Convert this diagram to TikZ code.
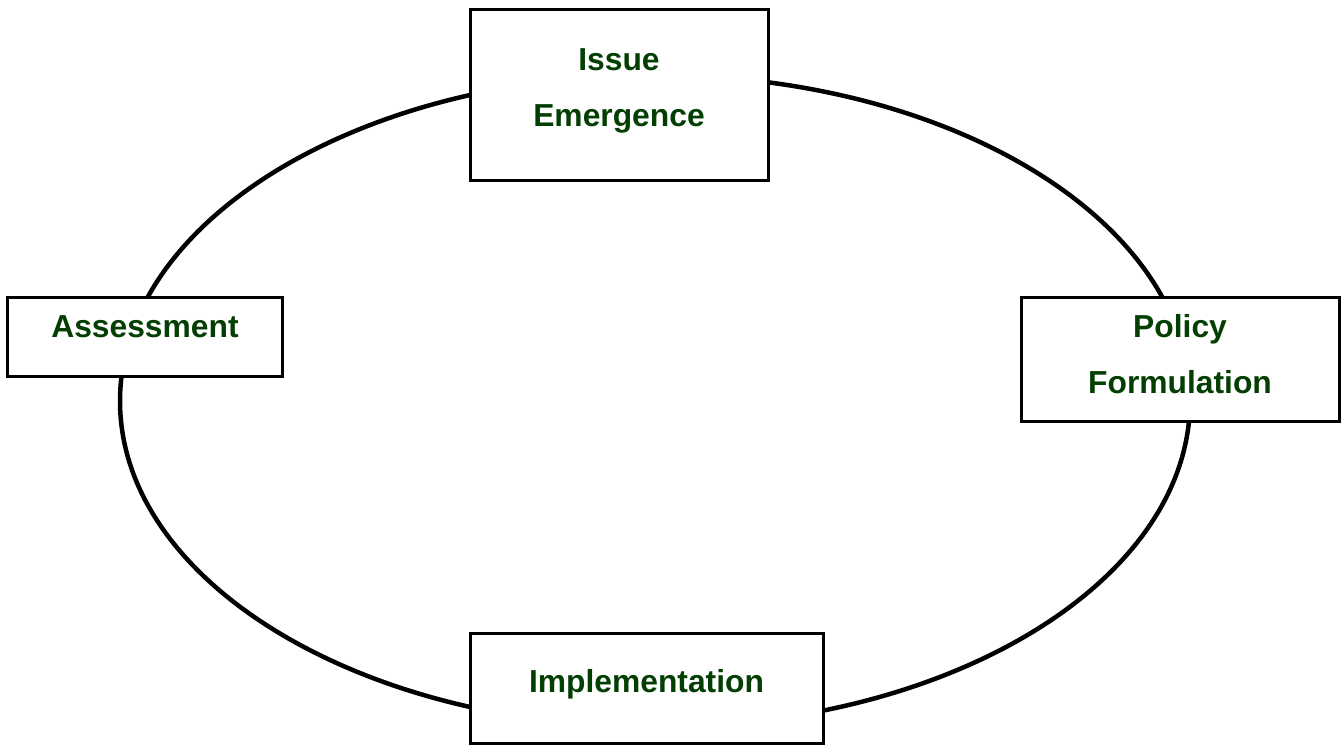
\documentclass[tikz,border=0pt]{standalone}
\usepackage{fontspec}
\setmainfont{Liberation Sans}
\definecolor{txtgreen}{HTML}{033F03}
\begin{document}
\begin{tikzpicture}[x=1pt,y=-1pt,
  stagebox/.style={draw=black,line width=3pt,fill=white,rectangle,inner sep=0pt},
  stagetext/.style={anchor=base,inner sep=0pt,text=txtgreen,font=\fontsize{31.8}{38}\selectfont\bfseries}]
\useasboundingbox (0,0) rectangle (1343,744);
\draw[line width=4.5pt] (655,401) ellipse [x radius=535, y radius=326];
\node[stagebox,minimum width=298pt,minimum height=171pt] (issue) at (619,94.5) {};
\node[stagebox,minimum width=275pt,minimum height=79pt] (assess) at (144.5,336.5) {};
\node[stagebox,minimum width=318pt,minimum height=124pt] (policy) at (1180,359) {};
\node[stagebox,minimum width=353pt,minimum height=110pt] (impl) at (646.5,688) {};
\node[stagetext] (issueA) at (619,70) {Issue};
\node[stagetext] (issueB) at (619,126) {Emergence};
\node[stagetext] (assessA) at (145,337) {Assessment};
\node[stagetext] (policyA) at (1180,337) {Policy};
\node[stagetext] (policyB) at (1180,393) {Formulation};
\node[stagetext] (implA) at (646.5,692) {Implementation};
\end{tikzpicture}
\end{document}
